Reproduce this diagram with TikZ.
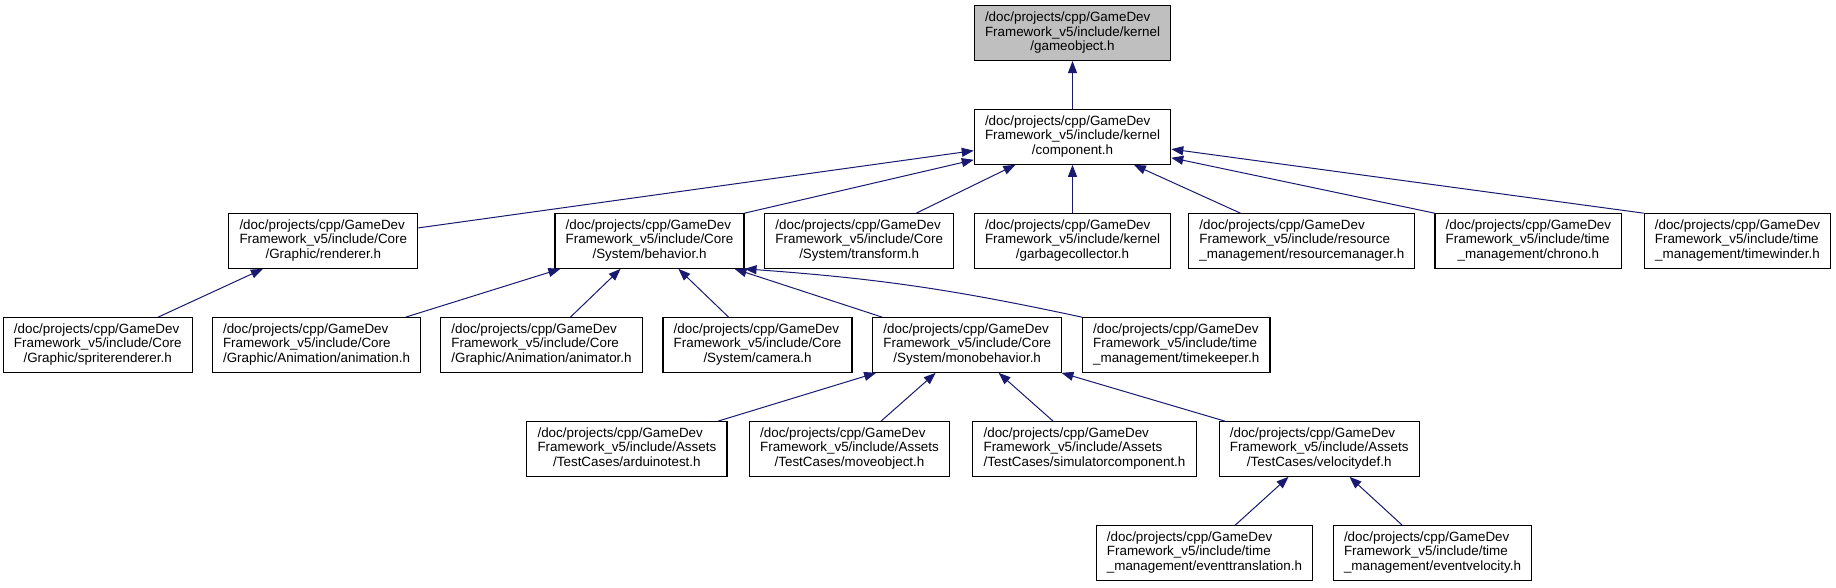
\documentclass[tikz,border=0pt]{standalone}
\usepackage{fontspec}
\setmainfont{Liberation Sans}
\usepackage{xcolor}
\definecolor{edgenavy}{HTML}{191970}
\definecolor{focusgrey}{HTML}{BFBFBF}
\usepackage{tikz}
\usetikzlibrary{arrows.meta}
\newcommand{\incpath}[2]{\begin{tabular}{@{}l@{}}/doc/projects/cpp/GameDev\\Framework\_v5/include/#1\\\multicolumn{1}{@{}c@{}}{#2}\end{tabular}}

\begin{document}
\begin{tikzpicture}[
  x=1pt, y=-1pt,
  font=\fontsize{13.4}{14.4}\selectfont,
  file/.style={draw=black, line width=1.1pt, fill=white, minimum height=54.6pt,
               inner xsep=10.7pt, inner ysep=0pt},
  focus/.style={file, fill=focusgrey},
  arr/.style={-{Triangle[length=12pt,width=9pt]}, line width=1pt, color=edgenavy},
]
  \useasboundingbox (0,0) rectangle (1836,587);

  \node[focus] (gameobj)    at (1072.5,33.2) {\incpath{kernel}{/gameobject.h}};
  \node[file]  (component)  at (1072.5,137)  {\incpath{kernel}{/component.h}};

  \node[file]  (renderer)   at (323.3,241)   {\incpath{Core}{/Graphic/renderer.h}};
  \node[file]  (behavior)   at (649.5,241)   {\incpath{Core}{/System/behavior.h}};
  \node[file]  (transform)  at (859.2,241)   {\incpath{Core}{/System/transform.h}};
  \node[file]  (garbage)    at (1072.5,241)  {\incpath{kernel}{/garbagecollector.h}};
  \node[file]  (resource)   at (1301.8,241)  {\incpath{resource}{\_management/resourcemanager.h}};
  \node[file]  (chrono)     at (1528.4,241)  {\incpath{time}{\_management/chrono.h}};
  \node[file]  (timewinder) at (1737.5,241)  {\incpath{time}{\_management/timewinder.h}};

  \node[file]  (sprite)     at (97.7,345)    {\incpath{Core}{/Graphic/spriterenderer.h}};
  \node[file]  (animation)  at (316.5,345)   {\incpath{Core}{/Graphic/Animation/animation.h}};
  \node[file]  (animator)   at (541.5,345)   {\incpath{Core}{/Graphic/Animation/animator.h}};
  \node[file]  (camera)     at (757.5,345)   {\incpath{Core}{/System/camera.h}};
  \node[file]  (monobeh)    at (967.2,345)   {\incpath{Core}{/System/monobehavior.h}};
  \node[file]  (timekeeper) at (1176.2,345)  {\incpath{time}{\_management/timekeeper.h}};

  \node[file]  (arduino)    at (626.9,449)   {\incpath{Assets}{/TestCases/arduinotest.h}};
  \node[file]  (moveobj)    at (849.5,449)   {\incpath{Assets}{/TestCases/moveobject.h}};
  \node[file]  (simulator)  at (1084.5,449)  {\incpath{Assets}{/TestCases/simulatorcomponent.h}};
  \node[file]  (velocity)   at (1319.2,449)  {\incpath{Assets}{/TestCases/velocitydef.h}};

  \node[file]  (evtrans)    at (1204.5,553)  {\incpath{time}{\_management/eventtranslation.h}};
  \node[file]  (evvel)      at (1432.5,553)  {\incpath{time}{\_management/eventvelocity.h}};

  \draw[arr] (component) -- (gameobj);

  \draw[arr] (renderer) -- (component);
  \draw[arr] (behavior.north east) -- (component);
  \draw[arr] (transform) -- (component);
  \draw[arr] (garbage) -- (component);
  \draw[arr] (resource) -- (component);
  \draw[arr] (chrono.north west) -- (component);
  \draw[arr] (timewinder.north west) -- (component.-7);

  \draw[arr] (sprite) -- (renderer);
  \draw[arr] (animation) -- (behavior);
  \draw[arr] (animator) -- (behavior);
  \draw[arr] (camera) -- (behavior);
  \draw[arr] (monobeh) -- (behavior);
  \draw[arr] (timekeeper.north west) to[bend right=4] (behavior.south east);

  \draw[arr] (arduino) -- (monobeh);
  \draw[arr] (moveobj) -- (monobeh);
  \draw[arr] (simulator) -- (monobeh);
  \draw[arr] (velocity) -- (monobeh);

  \draw[arr] (evtrans) -- (velocity);
  \draw[arr] (evvel) -- (velocity);
\end{tikzpicture}
\end{document}
